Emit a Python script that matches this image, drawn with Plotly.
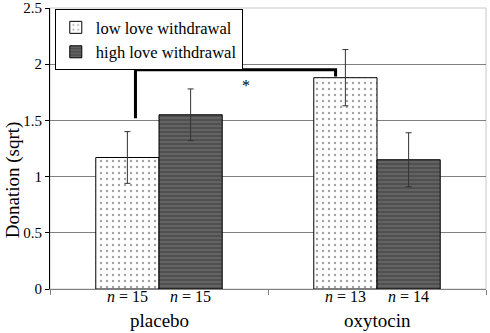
import plotly.graph_objects as go

categories = ["placebo", "oxytocin"]
low_vals = [1.17, 1.88]
low_err_plus = [0.23, 0.25]
low_err_minus = [0.23, 0.25]
high_vals = [1.55, 1.15]
high_err_plus = [0.23, 0.24]
high_err_minus = [0.23, 0.24]
low_n = [15, 13]
high_n = [15, 14]
series_names = ["low love withdrawal", "high love withdrawal"]
y_tickvals = [0, 0.5, 1, 1.5, 2, 2.5]
y_ticktext = ["0", "0.5", "1", "1.5", "2", "2.5"]
y_title = "Donation (sqrt)"

FONT = "Liberation Serif, Times New Roman, serif"
BARGAP = 0.42
bar_w = (1 - BARGAP) / 2

fig = go.Figure()
fig.add_trace(go.Bar(
    x=categories, y=low_vals, name=series_names[0],
    marker=dict(color="white", line=dict(color="black", width=1),
                pattern=dict(shape=".", fgcolor="#444", bgcolor="white", size=6, solidity=0.12)),
    error_y=dict(type="data", array=low_err_plus, arrayminus=low_err_minus,
                 color="#333", thickness=1, width=3),
))
fig.add_trace(go.Bar(
    x=categories, y=high_vals, name=series_names[1],
    marker=dict(color="#505050", line=dict(color="black", width=1),
                pattern=dict(shape="-", fgcolor="#9a9a9a", bgcolor="#505050", size=4, solidity=0.25)),
    error_y=dict(type="data", array=high_err_plus, arrayminus=high_err_minus,
                 color="#333", thickness=1, width=3),
))

annotations = []
for i, cat in enumerate(categories):
    for off, n in ((-bar_w / 2, low_n[i]), (bar_w / 2, high_n[i])):
        annotations.append(dict(x=i + off, y=0, xref="x", yref="paper", yanchor="top", yshift=3,
                                text=f"<i>n</i> = {n}", showarrow=False,
                                font=dict(family=FONT, size=16, color="black")))
    annotations.append(dict(x=i, y=0, xref="x", yref="paper", yanchor="top", yshift=-19,
                            text=cat, showarrow=False,
                            font=dict(family=FONT, size=19, color="black")))
annotations.append(dict(x=0.40, y=1.81, xref="x", yref="y", text="*", showarrow=False,
                        font=dict(family=FONT, size=16, color="black")))
annotations.append(dict(x=-0.083, y=0.39, xref="paper", yref="paper", xanchor="center",
                        yanchor="middle", textangle=-90, text=y_title, showarrow=False,
                        font=dict(family=FONT, size=19, color="black")))

shapes = [
    dict(type="rect", xref="paper", yref="paper", x0=0, x1=1, y0=0, y1=1,
         line=dict(color="#c8c8c8", width=1), layer="below"),
    dict(type="path", xref="x", yref="y",
         path="M -0.108,1.52 L -0.108,1.95 L 0.81,1.95 L 0.81,1.89",
         line=dict(color="black", width=3)),
]

fig.update_layout(
    width=490, height=333,
    margin=dict(l=50, r=4, t=8, b=44),
    paper_bgcolor="white", plot_bgcolor="white",
    barmode="group", bargap=BARGAP, bargroupgap=0,
    font=dict(family=FONT, color="black"),
    showlegend=True,
    legend=dict(x=0.011, y=0.996, xanchor="left", yanchor="top",
                bgcolor="white", bordercolor="black", borderwidth=1,
                font=dict(family=FONT, size=16.5, color="black"),
                tracegroupgap=0, itemwidth=30),
    annotations=annotations,
    shapes=shapes,
)
fig.update_xaxes(type="category", showticklabels=False, ticks="outside",
                 tickson="boundaries", ticklen=5, tickcolor="#808080",
                 showline=True, linecolor="#808080", linewidth=1,
                 showgrid=False, zeroline=False, automargin=False)
fig.update_yaxes(range=[0, 2.5], tickmode="array", tickvals=y_tickvals, ticktext=y_ticktext,
                 showgrid=True, gridcolor="#808080", gridwidth=1,
                 showline=True, linecolor="black", linewidth=1,
                 ticks="outside", ticklen=4, tickcolor="black",
                 zeroline=False, automargin=False, ticklabeloverflow="allow",
                 tickfont=dict(family=FONT, size=15, color="black"))

fig.write_html("out.html", config={"displayModeBar": False},
               post_script="document.body.style.margin='0';")
